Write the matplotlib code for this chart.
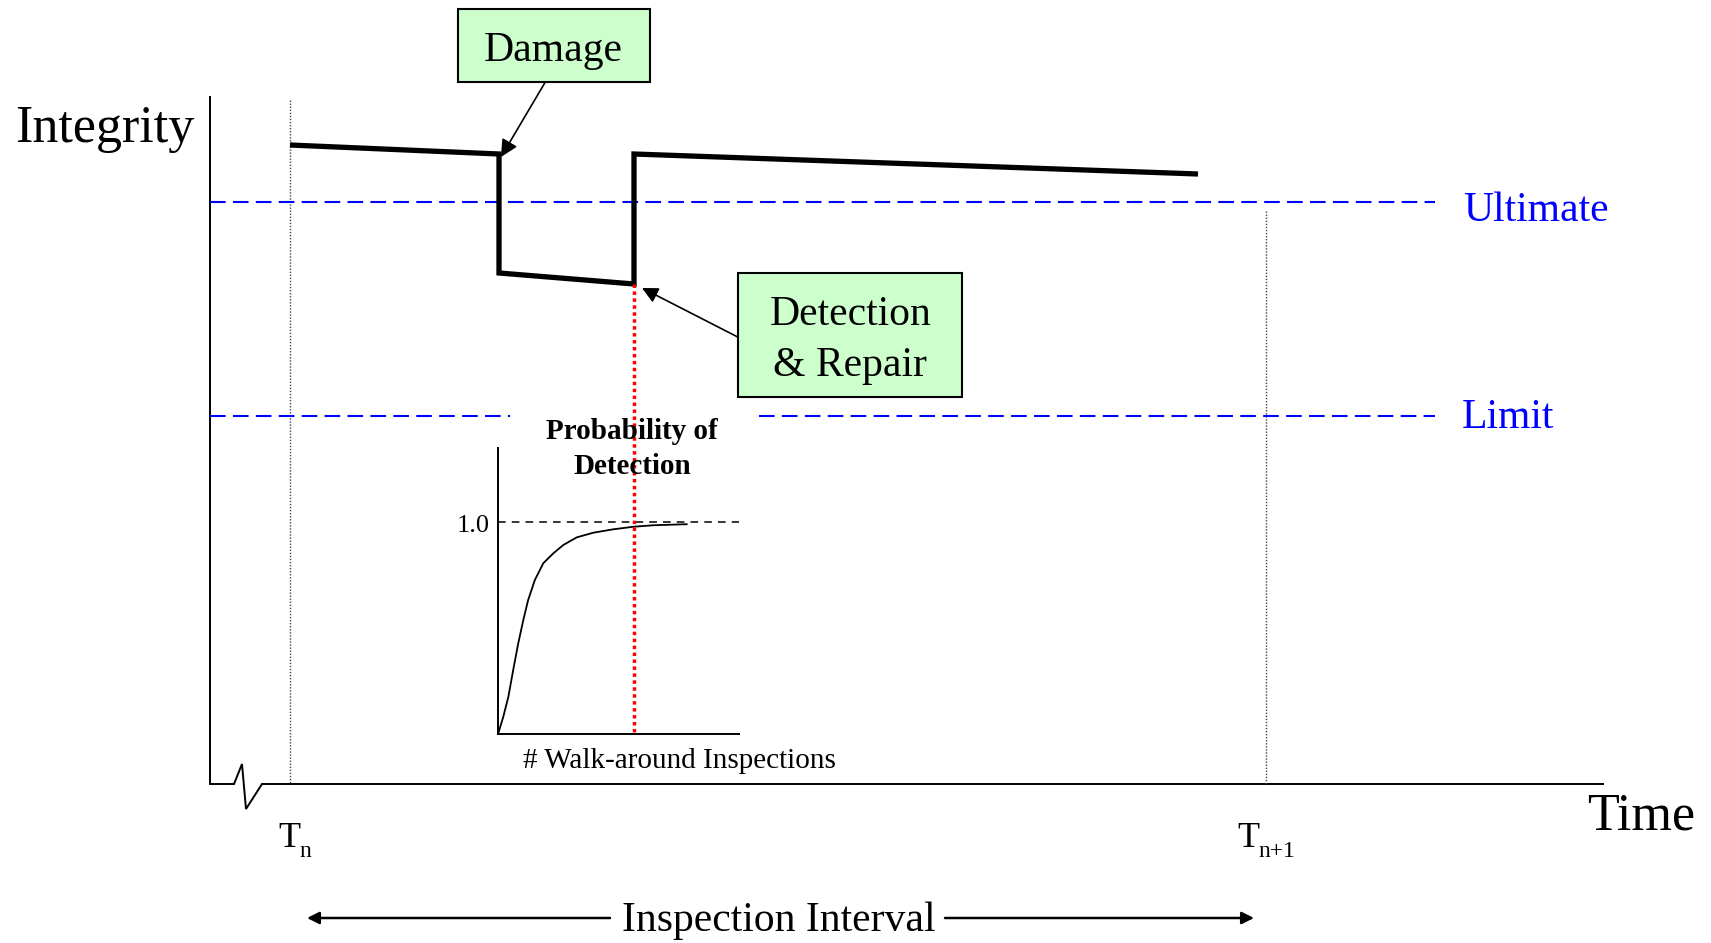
import matplotlib.pyplot as plt
from matplotlib.patches import Rectangle

plt.rcParams["font.family"] = ["Liberation Serif", "DejaVu Serif"]

# --- diagram values, in image units (x = time to the right, y = integrity downwards) ---
W, H = 1711, 943

integrity_time = [290, 499, 499, 634, 634, 1198]
integrity_level = [145, 154, 273, 284, 154, 174]

axis_x = [210, 210, 234, 242, 246, 262, 1603]
axis_y = [97, 784, 784, 764, 809, 784, 784]

inspection_times = [290, 1266]
inspection_tops = [100, 211]
inspection_label_x = [278, 1237]
inspection_labels = ["n", "n+1"]

ultimate_level = 202
limit_level = 415.6
line_start, line_end = 210, 1435
limit_gap = (510, 759)

damage_box = (457.6, 9, 192, 72.7)
detect_box = (738.3, 272.7, 224, 124)
damage_arrow = ((545.5, 81.7), (501, 157))
detect_arrow = ((738.3, 337.3), (642, 288))

# probability of detection inset (normalised walk-arounds vs probability)
pod_walks = [0, 0.022, 0.043, 0.063, 0.084, 0.105, 0.125, 0.153, 0.188,
             0.230, 0.271, 0.327, 0.396, 0.479, 0.562, 0.645, 0.728, 0.783]
pod_prob = [0, 0.083, 0.177, 0.303, 0.429, 0.539, 0.633, 0.728, 0.807,
            0.854, 0.893, 0.929, 0.951, 0.967, 0.979, 0.986, 0.989, 0.991]
inset_px = (498, 448.3, 739, 734.3)  # left, top, right, bottom
inset_ymax = 1.349

fig = plt.figure(figsize=(W / 100, H / 100), dpi=100)
ax = fig.add_axes([0, 0, 1, 1])
ax.set_xlim(0, W)
ax.set_ylim(H, 0)
ax.axis("off")
ax.set_zorder(2)
ax.patch.set_visible(False)

# inset axes
l, t, r, b = inset_px
ins = fig.add_axes([l / W, (H - b) / H, (r - l) / W, (b - t) / H])
ins.set_zorder(1)
ins.patch.set_visible(False)
ins.set_xlim(0, 1)
ins.set_ylim(0, inset_ymax)
for side in ["top", "right"]:
    ins.spines[side].set_visible(False)
for side in ["left", "bottom"]:
    ins.spines[side].set_linewidth(1.4)
ins.set_xticks([])
ins.set_yticks([])
ins.plot(pod_walks, pod_prob, color="black", lw=1.3)
ins.axhline(1.0, color="black", lw=1.1, dashes=(5, 4))

# main axes with break
ax.plot(axis_x, axis_y, color="black", lw=1.4, solid_joinstyle="miter")

# inspection time markers
for xt, top in zip(inspection_times, inspection_tops):
    ax.plot([xt, xt], [top, axis_y[-1]], color="#444444", lw=1.0,
            linestyle=(0, (1, 1.2)))

# ultimate / limit lines
ax.plot([line_start, line_end], [ultimate_level] * 2, color="#0000ff", lw=1.5,
        dashes=(7.5, 3.5))
ax.plot([line_start, limit_gap[0]], [limit_level] * 2, color="#0000ff", lw=1.5,
        dashes=(7.5, 3.5))
ax.plot([limit_gap[1], line_end], [limit_level] * 2, color="#0000ff", lw=1.5,
        dashes=(7.5, 3.5))

# integrity history
ax.plot(integrity_time, integrity_level, color="black", lw=3.8,
        solid_joinstyle="miter", solid_capstyle="butt")

# red detection line
ax.plot([integrity_time[3]] * 2, [integrity_level[3], inset_px[3]], color="red",
        lw=2.5, linestyle=(0, (1, 1)))

# callouts
for (x0, y0, w, h) in [damage_box, detect_box]:
    ax.add_patch(Rectangle((x0, y0), w, h, facecolor="#ccffcc",
                           edgecolor="black", lw=1.5))
ax.text(damage_box[0] + damage_box[2] / 2, 60.7, "Damage", fontsize=30,
        ha="center", va="baseline")
cx = detect_box[0] + detect_box[2] / 2
ax.text(cx, 325, "Detection", fontsize=30, ha="center", va="baseline")
ax.text(cx, 376, "& Repair", fontsize=30, ha="center", va="baseline")
for (start, tip), ms in zip([damage_arrow, detect_arrow], [26, 24]):
    ax.annotate("", xy=tip, xytext=start,
                arrowprops=dict(arrowstyle="-|>", color="black", lw=1.2,
                                mutation_scale=ms, shrinkA=0, shrinkB=0))

# labels
ax.text(15, 141.7, "Integrity", fontsize=37.5, ha="left", va="baseline")
ax.text(1587, 829, "Time", fontsize=37.5, ha="left", va="baseline")
ax.text(1463, 221, "Ultimate", fontsize=30, color="#0000ff", ha="left",
        va="baseline")
ax.text(1462, 428, "Limit", fontsize=30, color="#0000ff", ha="left",
        va="baseline")
for xl, sub in zip(inspection_label_x, inspection_labels):
    ax.text(xl, 846.7, "T", fontsize=26, ha="left", va="baseline")
    ax.text(xl + 21, 857, sub, fontsize=17, ha="left", va="baseline")

# inset labels
ax.text(632, 439.3, "Probability of", fontsize=21, fontweight="bold",
        ha="center", va="baseline")
ax.text(632, 474, "Detection", fontsize=21, fontweight="bold",
        ha="center", va="baseline")
ax.text(490, 531.7, "1.0", fontsize=19, ha="right", va="baseline")
ax.text(523, 768, "# Walk-around Inspections", fontsize=21, ha="left",
        va="baseline")

# inspection interval
ax.text(779, 931, "Inspection Interval", fontsize=30, ha="center",
        va="baseline")
for start, tip in [(610, 307), (945, 1254)]:
    ax.annotate("", xy=(tip, 918), xytext=(start, 918),
                arrowprops=dict(arrowstyle="-|>", color="black", lw=1.8,
                                mutation_scale=18, shrinkA=0, shrinkB=0))

fig.savefig("out.png", dpi=100)
